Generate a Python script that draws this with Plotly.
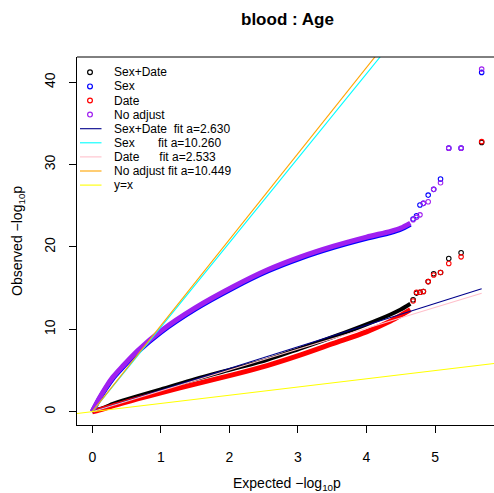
import plotly.graph_objects as go

# ---- data -------------------------------------------------------------
series_names = ["Sex+Date", "Sex", "Date", "No adjust"]
point_colors = ["#000000", "#0000FF", "#FF0000", "#A020F0"]

# bulk of the QQ distribution (expected vs observed -log10 p)
bulk_expected = [0.0, 0.1, 0.2, 0.3, 0.44, 0.66, 1.0, 1.5, 2.06, 2.55, 3.04, 3.52, 4.0, 4.35, 4.5, 4.64]
bulk_sexdate = [0.0, 0.3, 0.6, 0.95, 1.35, 1.9, 2.7, 3.95, 5.2, 6.3, 7.7, 9.1, 10.6, 11.8, 12.4, 13.1]
bulk_sex = [0.0, 1.5, 2.85, 4.05, 5.35, 7.25, 9.65, 12.45, 15.05, 17.05, 18.65, 19.95, 21.05, 21.75, 22.15, 22.75]
bulk_date = [0.0, 0.2, 0.45, 0.72, 1.05, 1.55, 2.3, 3.35, 4.5, 5.6, 6.9, 8.3, 9.7, 11.0, 11.7, 12.4]
bulk_noadj = [0.0, 1.6, 3.0, 4.2, 5.5, 7.4, 9.8, 12.6, 15.2, 17.2, 18.8, 20.1, 21.2, 21.9, 22.3, 22.9]

# ten most extreme hits (rank 1..10)
tail_expected = [5.68, 5.38, 5.20, 5.08, 4.98, 4.90, 4.83, 4.78, 4.73, 4.68]
tail_sexdate = [32.7, 19.3, 18.6, 16.9, 16.75, 15.8, 14.6, 14.5, 14.4, 13.6]
tail_sex = [41.2, 32.0, 32.0, 28.25, 27.0, 26.3, 25.3, 25.1, 23.8, 23.4]
tail_date = [32.8, 18.8, 18.0, 16.9, 16.6, 15.8, 14.6, 14.5, 14.5, 13.45]
tail_noadj = [41.6, 32.0, 32.0, 27.8, 27.0, 25.5, 25.3, 23.9, 23.6, 23.3]

# fitted slopes (observed = a * expected)
fit_slopes = [2.630, 10.260, 2.533, 10.449]
fit_colors = ["#00008B", "#00FFFF", "#FFC0CB", "#FFA500"]
fit_labels = ["Sex+Date\u00a0\u00a0fit a=2.630",
              "Sex\u00a0\u00a0\u00a0\u00a0\u00a0\u00a0\u00a0fit a=10.260",
              "Date\u00a0\u00a0\u00a0\u00a0\u00a0\u00a0fit a=2.533",
              "No adjust fit a=10.449"]
identity_color = "#FFFF00"

x_ticks = [0, 1, 2, 3, 4, 5]
y_ticks = [0, 10, 20, 30, 40]
x_range = [-0.2232, 5.860]
y_range = [-1.615, 43.07]

# ---- geometry of the canvas ------------------------------------------
W, H = 494, 493
L, R, T, B = 77, 494, 57, 425
FONT = "Liberation Sans, Arial, Helvetica, sans-serif"


def xp(px):
    return (px - L) / (R - L)


def yp(py):
    return (B - py) / (B - T)


fig = go.Figure()

bulks = [bulk_sexdate, bulk_sex, bulk_date, bulk_noadj]
tails = [tail_sexdate, tail_sex, tail_date, tail_noadj]
band_widths = [4, 5, 5, 5]

for name, col, bulk, tail, bw in zip(series_names, point_colors, bulks, tails, band_widths):
    fig.add_trace(go.Scatter(
        x=bulk_expected, y=bulk, mode="lines", name=name,
        line=dict(color=col, width=bw, shape="spline", smoothing=0.8),
        showlegend=False, hoverinfo="skip"))
    fig.add_trace(go.Scatter(
        x=tail_expected, y=tail, mode="markers", name=name,
        marker=dict(symbol="circle-open", size=4.5, color=col, line=dict(width=1.1, color=col)),
        showlegend=False, cliponaxis=False))

x_max = max(tail_expected)
for a, col, lab in zip(fit_slopes, fit_colors, fit_labels):
    fig.add_trace(go.Scatter(
        x=[0, x_max], y=[0, a * x_max], mode="lines", name=lab,
        line=dict(color=col, width=1.1), showlegend=False))

fig.add_trace(go.Scatter(
    x=x_range, y=x_range, mode="lines", name="y=x",
    line=dict(color=identity_color, width=1.1), showlegend=False))

# ---- legend (drawn by hand, R style, no box) -------------------------
shapes = [dict(type="line", xref="paper", yref="paper", x0=0, x1=1, y0=1, y1=1,
               line=dict(color="black", width=1))]
annotations = []
row0, step = 72.3, 14.1
sym_x, line_x0, line_x1, text_x = 90, 80, 101.5, 111.5
legend_texts = series_names + fit_labels + ["y=x"]
for i, txt in enumerate(legend_texts):
    ry = row0 + i * step
    if i < 4:
        shapes.append(dict(type="circle", xref="paper", yref="paper",
                           xsizemode="pixel", ysizemode="pixel",
                           xanchor=xp(sym_x), yanchor=yp(ry),
                           x0=-2.4, x1=2.4, y0=-2.4, y1=2.4,
                           line=dict(color=point_colors[i], width=1.2)))
    else:
        lc = fit_colors[i - 4] if i < 8 else identity_color
        shapes.append(dict(type="line", xref="paper", yref="paper",
                           x0=xp(line_x0), x1=xp(line_x1), y0=yp(ry), y1=yp(ry),
                           line=dict(color=lc, width=1.1)))
    annotations.append(dict(text=txt, xref="paper", yref="paper",
                            x=xp(text_x), y=yp(ry), xanchor="left", yanchor="middle",
                            showarrow=False, font=dict(family=FONT, size=12, color="black")))

# title and axis titles
cx = 287
annotations.append(dict(text="<b>blood : Age</b>", xref="paper", yref="paper",
                        x=xp(cx), y=yp(20), xanchor="center", yanchor="middle",
                        showarrow=False, font=dict(family=FONT, size=17, color="black")))
annotations.append(dict(text="Expected \u2212log<sub>10</sub>p", xref="paper", yref="paper",
                        x=xp(cx), y=yp(484), xanchor="center", yanchor="middle",
                        showarrow=False, font=dict(family=FONT, size=14, color="black")))
annotations.append(dict(text="Observed \u2212log<sub>10</sub>p", xref="paper", yref="paper",
                        x=xp(18), y=yp(241), xanchor="center", yanchor="middle",
                        textangle=-90, showarrow=False,
                        font=dict(family=FONT, size=14, color="black")))

fig.update_layout(
    width=W, height=H,
    margin=dict(l=L, r=W - R, t=T, b=H - B, pad=0),
    paper_bgcolor="white", plot_bgcolor="white",
    shapes=shapes, annotations=annotations,
    font=dict(family=FONT, size=14, color="black"),
)
fig.update_xaxes(range=x_range, tickvals=x_ticks, ticks="outside", ticklen=7,
                 tickcolor="black", tickwidth=1, showline=True, linecolor="black",
                 linewidth=1, showgrid=False, zeroline=False, ticklabelstandoff=12,
                 tickfont=dict(family=FONT, size=14, color="black"))
fig.update_yaxes(range=y_range, tickvals=y_ticks, ticks="outside", ticklen=7,
                 tickcolor="black", tickwidth=1, showline=True, linecolor="black",
                 linewidth=1, showgrid=False, zeroline=False, tickangle=-90,
                 ticklabelstandoff=8,
                 tickfont=dict(family=FONT, size=14, color="black"))

fig.write_html("out.html")
